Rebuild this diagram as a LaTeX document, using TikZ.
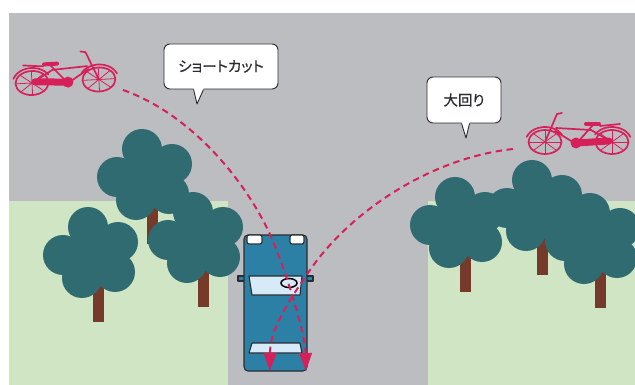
\documentclass[tikz,border=0pt]{standalone}
\usepackage{fontspec}
\newfontfamily\jpfont[RawFeature=+palt, FakeBold=0.4]{Noto Sans CJK JP}
\usetikzlibrary{arrows.meta, calc}

\definecolor{roadgray}{HTML}{BCBDC1}
\definecolor{lawngreen}{HTML}{CFE5C4}
\definecolor{leafteal}{HTML}{2F6B71}
\definecolor{trunkbrown}{HTML}{763A2A}
\definecolor{carblue}{HTML}{2C80A6}
\definecolor{glassblue}{HTML}{D6EBF7}
\definecolor{crimson}{HTML}{D6205A}
\definecolor{inkgray}{HTML}{2A2C30}

\begin{document}
\begin{tikzpicture}[x=1pt, y=-1pt,
    leaf/.style={fill=leafteal},
    trunk/.style={fill=trunkbrown},
    carline/.style={draw=inkgray, line width=1.1pt, line join=round},
    route/.style={crimson, line width=2pt, dash pattern=on 6.5pt off 4.5pt,
        -{Triangle[length=18pt, width=12.5pt]}},
    bikeline/.style={draw=crimson, line width=1.7pt, line cap=round},
    bikespoke/.style={draw=crimson, line width=0.8pt},
    callout/.style={draw=inkgray, fill=white, line width=0.9pt, rounded corners=6pt,
        font=\jpfont\fontsize{14.5}{17}\selectfont, text=inkgray}]

    \useasboundingbox (0,0) rectangle (635,385);
    \fill[white] (0,0) rectangle (635,385);

    % -------------------------------------------------------------
    % GROUND: ROAD AND LAWNS
    % -------------------------------------------------------------
    \fill[roadgray] (9,13) rectangle (635,385);
    \fill[lawngreen] (9,201) rectangle (228,385);
    \fill[lawngreen] (428,201) rectangle (635,385);

    % -------------------------------------------------------------
    % TREES (five round leaves over a trunk)
    % -------------------------------------------------------------
    \def\treeat#1#2{%
        \fill[trunk] (#1+5,#2+40) rectangle (#1+16,#2+95);
        \fill[leaf] (#1+2,#2+28) circle (22);
        \foreach \dx/\dy in {0/0,-25/28,30/15,-6/51,27/45}
            \fill[leaf] (#1+\dx,#2+\dy) circle (20);
    }

    % left corner
    \treeat{142}{149}
    \treeat{88}{227}
    \treeat{193}{212}

    % right corner
    \treeat{532}{180}
    \treeat{455}{197}
    \treeat{590}{213}

    % -------------------------------------------------------------
    % CAR (seen from above, heading up)
    % -------------------------------------------------------------
    \draw[carline, fill=carblue] (238,276) rectangle (246,281);
    \draw[carline, fill=carblue] (305,276) rectangle (313,281);
    \draw[carline, fill=carblue, rounded corners=4pt] (244,235) rectangle (307,371);

    % headlights
    \draw[carline, fill=white, rounded corners=2pt] (247,235) rectangle (262,244);
    \draw[carline, fill=white, rounded corners=2pt] (290,235) rectangle (304,244);

    % windows
    \draw[carline, fill=glassblue] (249,276) -- (302,276) -- (300,295) -- (252,295) -- cycle;
    \draw[carline, fill=glassblue] (252,343) -- (300,343) -- (302,353) -- (249,353) -- cycle;

    % driver's eye point
    \draw[black, line width=1.5pt] (289,283) ellipse [x radius=8, y radius=4.5];

    % -------------------------------------------------------------
    % BICYCLES
    % -------------------------------------------------------------
    \def\bicycle{%
        \foreach \cx in {0,67}{
            \draw[bikeline] (\cx,0) ellipse [x radius=16.5, y radius=12];
            \foreach \a in {0,45,...,315}
                \draw[bikespoke] (\cx,0) -- ++(\a:16.5 and 12);
        }
        % fenders and rack
        \draw[bikeline] (0,0) ++(200:19.5 and 15) arc [start angle=200, end angle=330, x radius=19.5, y radius=15];
        \draw[bikeline] (67,0) ++(210:19.5 and 15) arc [start angle=210, end angle=340, x radius=19.5, y radius=15];
        \draw[bikeline] (-8,-18) -- (12,-16);
        % frame
        \draw[bikeline] (0,0) -- (36,2) -- (19,-17);
        \draw[bikeline] (0,0) -- (21,-12) -- (56,-14);
        \draw[bikeline] (36,2) -- (57,-11);
        \draw[bikeline] (67,0) -- (55,-28) -- (50,-29);
        % saddle and chain guard
        \draw[crimson, line width=4pt, line cap=round] (13,-18) -- (26,-18);
        \draw[crimson, line width=7pt, line cap=round] (3,-1) -- (36,1);
        \fill[crimson] (36,1) circle (5.5);
    }

    \begin{scope}[shift={(32,83)}, rotate=3]
        \bicycle
    \end{scope}
    \begin{scope}[shift={(612,142)}, xscale=-1]
        \bicycle
    \end{scope}

    % -------------------------------------------------------------
    % ROUTES
    % -------------------------------------------------------------
    \coordinate (bikeL) at (123,90);
    \coordinate (bikeR) at (513,149);
    \coordinate (kneeL) at (267,228);
    \coordinate (kneeR) at (310,270);
    \coordinate (endL) at (306,371);
    \coordinate (endR) at (270,371);

    \draw[route] (bikeL) .. controls (183,111) and (237,168) .. (kneeL)
        .. controls (281,256) and (305,330) .. (endL);
    \draw[route] (bikeR) .. controls (430,158) and (350,212) .. (kneeR)
        .. controls (286,305) and (270,330) .. (endR);

    % -------------------------------------------------------------
    % SPEECH BUBBLES
    % -------------------------------------------------------------
    \node[callout, minimum width=114pt, minimum height=45pt] (shortcut) at (221,66.5) {ショートカット};
    \fill[white] ($(shortcut.south west)+(30,-2)$) -- ++(0,2.5) -- (197,104) -- ($(shortcut.south west)+(40,0.5)$) -- ++(0,-2.5) -- cycle;
    \draw[inkgray, line width=0.9pt, line join=round] ($(shortcut.south west)+(30,0)$) -- (197,104) -- ($(shortcut.south west)+(40,0)$);

    \node[callout, minimum width=74pt, minimum height=46pt] (detour) at (464,100) {大回り};
    \fill[white] ($(detour.south west)+(35,-2)$) -- ++(0,2.5) -- (466,138) -- ($(detour.south west)+(43,0.5)$) -- ++(0,-2.5) -- cycle;
    \draw[inkgray, line width=0.9pt, line join=round] ($(detour.south west)+(35,0)$) -- (466,138) -- ($(detour.south west)+(43,0)$);

\end{tikzpicture}
\end{document}
